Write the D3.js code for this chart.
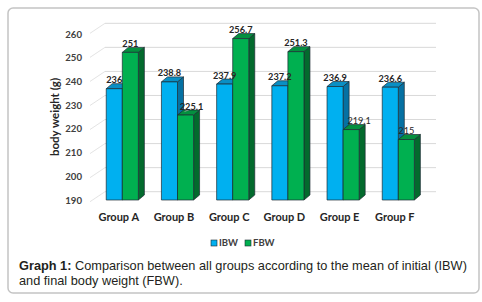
<!DOCTYPE html>
<html>
<head>
<meta charset="utf-8">
<script src="https://cdn.jsdelivr.net/npm/d3@7/dist/d3.min.js"></script>
<style>
  html, body { margin: 0; padding: 0; background: #fff; }
  svg { display: block; }
</style>
</head>
<body>
<svg id="chart" width="482" height="302"></svg>
<script>
// chart data
const groups = ['Group A', 'Group B', 'Group C', 'Group D', 'Group E', 'Group F'];
const series = ['IBW', 'FBW'];
const ibw = [236, 238.8, 237.9, 237.2, 236.9, 236.6];
const fbw = [251, 225.1, 256.7, 251.3, 219.1, 215];
const ibwLabels = ['236', '238.8', '237.9', '237.2', '236.9', '236.6'];
const fbwLabels = ['251', '225.1', '256.7', '251.3', '219.1', '215'];
const yTicks = [190, 200, 210, 220, 230, 240, 250, 260];

// look of the bars
const colors = {
    IBW: { front: '#00b0f0', top: '#0a8fc4', side: '#0571a3' },
    FBW: { front: '#00b050', top: '#04903f', side: '#036a2d' }
};
// a few FBW labels sit off-centre / in normal weight in the original
const fbwLabelStyle = {
    'Group B': { dx: 6, weight: 'bold', leader: true },
    'Group E': { dx: 8, weight: 'normal' },
    'Group F': { dx: 0, weight: 'normal' }
};

const svg = d3.select('#chart');
const chartFont = 'Lato, "Open Sans", sans-serif';
const DX = 6, DY = 5;

// frame
svg.append('rect')
    .attr('x', 8).attr('y', 8)
    .attr('width', 471).attr('height', 285)
    .attr('rx', 5)
    .attr('fill', '#fff')
    .attr('stroke', '#c4c4c4')
    .attr('stroke-width', 1.5);

const x0 = d3.scaleBand()
    .domain(groups)
    .range([94.7, 425.9])
    .paddingInner(0.418)
    .paddingOuter(0.209);
const x1 = d3.scaleBand()
    .domain(series)
    .range([0, x0.bandwidth()]);

// bars sit mid-depth, ticks on the front plane, grid on the back wall
const yBar = d3.scaleLinear().domain([190, 260]).range([200, 30.6]);
const yFront = d3.scaleLinear().domain([190, 260]).range([200, 34]);
const yBack = d3.scaleLinear().domain([190, 260]).range([191.7, 23.3]);

// grid on the back wall + left wall diagonals
const grid = svg.append('g');
grid.selectAll('line.back')
    .data(yTicks)
    .enter().append('line')
    .attr('x1', 105).attr('x2', 436)
    .attr('y1', d => yBack(d)).attr('y2', d => yBack(d))
    .attr('stroke', '#d9d9d9').attr('stroke-width', 1);
grid.selectAll('line.wall')
    .data(yTicks)
    .enter().append('line')
    .attr('x1', 90).attr('x2', 105)
    .attr('y1', d => yBack(d) + 10).attr('y2', d => yBack(d))
    .attr('stroke', '#dcdcdc').attr('stroke-width', 0.8);

// y tick labels
svg.append('g').selectAll('text')
    .data(yTicks)
    .enter().append('text')
    .attr('x', 82)
    .attr('y', d => yFront(d) + 3.5)
    .attr('text-anchor', 'end')
    .attr('font-family', chartFont)
    .attr('font-weight', 'bold')
    .attr('font-size', '9.6px')
    .attr('fill', '#404040')
    .text(d => d);

// y axis title
svg.append('text')
    .attr('transform', 'translate(59,117) rotate(-90)')
    .attr('text-anchor', 'middle')
    .attr('font-family', chartFont)
    .attr('font-weight', 'bold')
    .attr('font-size', '11.5px')
    .attr('fill', '#262626')
    .text('body weight (g)');

// bars
const rows = [];
groups.forEach((g, i) => {
    rows.push({ group: g, key: 'IBW', value: ibw[i], label: ibwLabels[i] });
    rows.push({ group: g, key: 'FBW', value: fbw[i], label: fbwLabels[i] });
});

const barsG = svg.append('g');
rows.forEach(d => {
    const xl = x0(d.group) + x1(d.key);
    const xr = xl + x1.bandwidth();
    const yt = yBar(d.value);
    const yb = yBar(190);
    const c = colors[d.key];
    const g = barsG.append('g')
        .attr('stroke', '#1d2b33')
        .attr('stroke-width', 0.7)
        .attr('stroke-linejoin', 'round');
    g.append('polygon')
        .attr('points', [[xr, yt], [xr + DX, yt - DY], [xr + DX, yb - DY], [xr, yb]].join(' '))
        .attr('fill', c.side);
    g.append('polygon')
        .attr('points', [[xl, yt], [xl + DX, yt - DY], [xr + DX, yt - DY], [xr, yt]].join(' '))
        .attr('fill', c.top);
    g.append('rect')
        .attr('x', xl).attr('y', yt)
        .attr('width', xr - xl).attr('height', yb - yt)
        .attr('fill', c.front);
});

// value labels
const labelsG = svg.append('g');
rows.forEach(d => {
    const st = d.key === 'FBW' && fbwLabelStyle[d.group]
        ? fbwLabelStyle[d.group] : { dx: 0, weight: 'bold' };
    const cx = x0(d.group) + x1(d.key) + x1.bandwidth() / 2 + st.dx;
    const yt = yBar(d.value);
    if (st.leader) {
        labelsG.append('line')
            .attr('x1', cx - 7).attr('y1', yt - 3.5)
            .attr('x2', cx - 1).attr('y2', yt - 6)
            .attr('stroke', '#a6a6a6').attr('stroke-width', 0.8);
    }
    labelsG.append('text')
        .attr('x', cx)
        .attr('y', yt - 5.5)
        .attr('text-anchor', 'middle')
        .attr('font-family', chartFont)
        .attr('font-weight', st.weight)
        .attr('font-size', '9.2px')
        .attr('fill', '#262626')
        .text(d.label);
});

// category labels
svg.append('g').selectAll('text')
    .data(groups)
    .enter().append('text')
    .attr('x', d => x0(d) + x0.bandwidth() / 2 - 3.5)
    .attr('y', 221)
    .attr('text-anchor', 'middle')
    .attr('font-family', chartFont)
    .attr('font-weight', 'bold')
    .attr('font-size', '11px')
    .attr('fill', '#262626')
    .text(d => d);

// legend
const legend = svg.append('g').attr('transform', 'translate(211,240)');
const legendItems = legend.selectAll('g')
    .data(series)
    .enter().append('g')
    .attr('transform', (d, i) => `translate(${i * 34},0)`);
legendItems.append('rect')
    .attr('width', 6).attr('height', 6)
    .attr('fill', d => colors[d].front)
    .attr('stroke', '#1d2b33').attr('stroke-width', 0.6);
legendItems.append('text')
    .attr('x', 8).attr('y', 6.3)
    .attr('font-family', chartFont)
    .attr('font-weight', 'bold')
    .attr('font-size', '9.5px')
    .attr('fill', '#404040')
    .text(d => d);

// caption
const capFont = 'Arial, "Liberation Sans", sans-serif';
const cap1 = svg.append('text')
    .attr('x', 19).attr('y', 270)
    .attr('font-family', capFont)
    .attr('font-size', '12.75px')
    .attr('fill', '#231f20');
cap1.append('tspan').attr('font-weight', 'bold').text('Graph 1:');
cap1.append('tspan').text(' Comparison between all groups according to the mean of initial (IBW)');
svg.append('text')
    .attr('x', 19).attr('y', 285)
    .attr('font-family', capFont)
    .attr('font-size', '12.75px')
    .attr('fill', '#231f20')
    .text('and final body weight (FBW).');
</script>
</body>
</html>
